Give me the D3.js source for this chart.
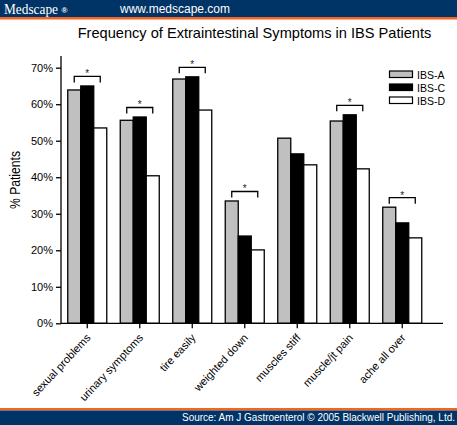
<!DOCTYPE html>
<html><head><meta charset="utf-8">
<script src="https://cdn.jsdelivr.net/npm/d3@7"></script>
<style>body{margin:0;background:#fff}svg{display:block}</style>
</head><body><svg id="c" width="457" height="425"></svg>
<script>
const categories = ["sexual problems","urinary symptoms","tire easily","weighted down","muscles stiff","muscle/jt pain","ache all over"];
const seriesNames = ["IBS-A","IBS-C","IBS-D"];
const ibsA = [63.9,55.6,66.9,33.5,50.7,55.4,31.8];
const ibsC = [65.0,56.5,67.5,23.9,46.4,57.1,27.5];
const ibsD = [53.5,40.4,58.4,20.1,43.4,42.3,23.4];
const significant = [true,true,true,true,false,true,true];
const yTicks = [0,10,20,30,40,50,60,70];
const colors = ["#c0c0c0","#000000","#ffffff"];
const values = [ibsA, ibsC, ibsD];

const svg = d3.select("#c");
const font = "Liberation Sans, Arial, sans-serif";

// header
svg.append("rect").attr("x",0).attr("y",0).attr("width",457).attr("height",17).attr("fill","#003366");
svg.append("rect").attr("x",0).attr("y",17).attr("width",457).attr("height",2.5).attr("fill","#f26522");
svg.append("text").attr("x",4).attr("y",13.5).attr("fill","#fff").attr("font-family","Liberation Serif, Times New Roman, serif")
  .attr("font-size",14.5).attr("textLength",54).attr("lengthAdjust","spacingAndGlyphs").text("Medscape");
svg.append("text").attr("x",61.5).attr("y",13).attr("fill","#fff").attr("font-family",font).attr("font-size",8).attr("font-weight","bold").text("®");
svg.append("text").attr("x",120).attr("y",13).attr("fill","#fff").attr("font-family",font).attr("font-size",12).text("www.medscape.com");
// footer
svg.append("rect").attr("x",0).attr("y",408).attr("width",457).attr("height",2.5).attr("fill","#f26522");
svg.append("rect").attr("x",0).attr("y",410.5).attr("width",457).attr("height",14.5).attr("fill","#003366");
svg.append("text").attr("x",455).attr("y",421).attr("text-anchor","end").attr("fill","#fff").attr("font-family",font)
  .attr("font-size",10).attr("textLength",273).attr("lengthAdjust","spacingAndGlyphs")
  .text("Source: Am J Gastroenterol © 2005 Blackwell Publishing, Ltd.");

// title
svg.append("text").attr("x",254.5).attr("y",38).attr("text-anchor","middle").attr("font-family",font)
  .attr("font-size",14.6).attr("fill","#000").text("Frequency of Extraintestinal Symptoms in IBS Patients");

const y = d3.scaleLinear().domain([0,70]).range([323.3,67.7]);
const x = d3.scaleBand().domain(categories).range([61,428.5]).paddingInner(0.257).paddingOuter(0.1285);
const xs = d3.scaleBand().domain(seriesNames).range([0,x.bandwidth()]);

// y axis
const yAxis = svg.append("g").attr("transform","translate(61,0)")
  .call(d3.axisLeft(y).tickValues(yTicks).tickFormat(d=>d+"%").tickSize(5).tickSizeOuter(0));
yAxis.select(".domain").remove();
yAxis.append("line").attr("x1",0).attr("x2",0).attr("y1",y(0)).attr("y2",y(73.2)).attr("stroke","#000").attr("stroke-width",1.3);
yAxis.selectAll(".tick line").attr("stroke-width",1.3);
yAxis.selectAll(".tick text").attr("font-family",font).attr("font-size",11).attr("fill","#000").attr("x",-8);

svg.append("text").attr("transform","translate(20,180) rotate(-90)").attr("text-anchor","middle")
  .attr("font-family",font).attr("font-size",14).attr("textLength",58).attr("lengthAdjust","spacingAndGlyphs").text("% Patients");

// bars
const g = svg.append("g");
categories.forEach((c,i)=>{
  seriesNames.forEach((s,j)=>{
    g.append("rect").attr("x",x(c)+xs(s)).attr("width",xs.bandwidth())
      .attr("y",y(values[j][i])).attr("height",y(0)-y(values[j][i]))
      .attr("fill",colors[j]).attr("stroke","#000").attr("stroke-width",1.3);
  });
  if (significant[i]) {
    const top = y(Math.max(ibsA[i],ibsC[i],ibsD[i]));
    const by = top - 9.5;
    const xa = x(c)+xs("IBS-A")+xs.bandwidth()/2, xd = x(c)+xs("IBS-D")+xs.bandwidth()/2;
    g.append("path").attr("d",`M${xa},${by+6}V${by}H${xd}V${by+6}`).attr("fill","none").attr("stroke","#000").attr("stroke-width",1.3);
    g.append("text").attr("x",(xa+xd)/2).attr("y",by+1).attr("text-anchor","middle").attr("font-family",font)
      .attr("font-size",10).attr("fill","#222").text("*");
  }
});

// x axis
const xAxis = svg.append("g").attr("transform",`translate(0,${y(0)})`)
  .call(d3.axisBottom(x).tickSize(5).tickSizeOuter(0));
xAxis.select(".domain").remove();
xAxis.append("line").attr("x1",61).attr("x2",443).attr("y1",0).attr("y2",0).attr("stroke","#000").attr("stroke-width",1.3);
xAxis.selectAll(".tick line").attr("stroke-width",1.3);
xAxis.selectAll(".tick text").attr("font-family",font).attr("font-size",11).attr("fill","#000")
  .attr("text-anchor","end").attr("dy",0).attr("y",0)
  .attr("transform","translate(4,15) rotate(-47)");

// legend
const leg = svg.append("g");
seriesNames.forEach((s,j)=>{
  leg.append("rect").attr("x",389.5).attr("y",71+j*13).attr("width",23).attr("height",6.5)
    .attr("fill",colors[j]).attr("stroke","#000").attr("stroke-width",1.2);
  leg.append("text").attr("x",417).attr("y",78.5+j*13).attr("font-family",font).attr("font-size",10.5).text(s);
});
</script></body></html>
